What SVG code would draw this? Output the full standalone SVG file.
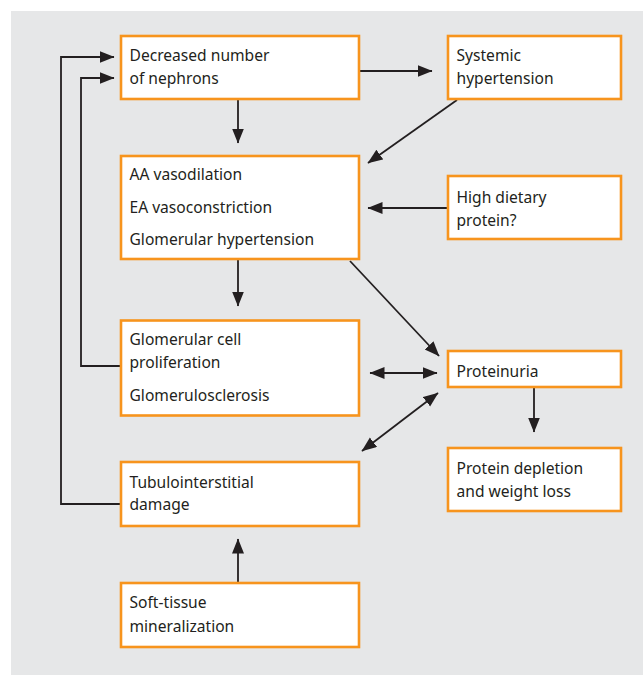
<svg xmlns="http://www.w3.org/2000/svg" width="643" height="675" viewBox="0 0 643 675">
<defs>
<style>
.bg{fill:#E6E7E8}
.box{fill:#FFFFFF;stroke:#F7941D;stroke-width:2.6}
.t{font-family:"Noto Sans","Liberation Sans",Arial,sans-serif;font-size:15.6px;fill:#231F20}
.c{fill:none;stroke:#231F20;stroke-width:1.8}
.a{marker-end:url(#ah)}
.d{marker-start:url(#ah);marker-end:url(#ah)}
</style>
<marker id="ah" markerUnits="userSpaceOnUse" markerWidth="16" markerHeight="13" refX="14.5" refY="6" orient="auto-start-reverse">
<path d="M0,0 L15,6 L0,12 Z" fill="#231F20"/>
</marker>
</defs>
<rect class="bg" x="11" y="11" width="632" height="664"/>
<g id="connectors">
<line class="c a" x1="360" y1="71" x2="432" y2="71"/>
<line class="c a" x1="238" y1="100" x2="238" y2="143"/>
<line class="c a" x1="457" y1="100" x2="368" y2="163"/>
<line class="c a" x1="447" y1="208" x2="368" y2="208"/>
<line class="c a" x1="238" y1="260" x2="238" y2="306"/>
<line class="c a" x1="350" y1="261" x2="439" y2="356"/>
<line class="c d" x1="370" y1="373" x2="437" y2="373"/>
<line class="c d" x1="362" y1="451" x2="438" y2="393"/>
<line class="c a" x1="534" y1="388" x2="534" y2="432"/>
<line class="c a" x1="238" y1="583" x2="238" y2="539"/>
<polyline class="c a" points="120,366 81,366 81,78 114,78"/>
<polyline class="c a" points="120,504 61,504 61,57 114,57"/>
</g>
<g id="n1">
<rect class="box" x="121" y="36" width="238" height="63"/>
<text class="t" x="129.5" y="61">Decreased number</text>
<text class="t" x="129.5" y="84">of nephrons</text>
</g>
<g id="sys">
<rect class="box" x="448" y="36" width="173" height="63"/>
<text class="t" x="456.5" y="61">Systemic</text>
<text class="t" x="456.5" y="83.5">hypertension</text>
</g>
<g id="n2">
<rect class="box" x="121" y="156" width="238" height="103"/>
<text class="t" x="129.5" y="180">AA vasodilation</text>
<text class="t" x="129.5" y="212.7">EA vasoconstriction</text>
<text class="t" x="129.5" y="245">Glomerular hypertension</text>
</g>
<g id="hdp">
<rect class="box" x="448" y="176" width="173" height="63"/>
<text class="t" x="456.5" y="203.3">High dietary</text>
<text class="t" x="456.5" y="226">protein?</text>
</g>
<g id="n3">
<rect class="box" x="121" y="320.5" width="238" height="95"/>
<text class="t" x="129.5" y="345">Glomerular cell</text>
<text class="t" x="129.5" y="367.5">proliferation</text>
<text class="t" x="129.5" y="400.7">Glomerulosclerosis</text>
</g>
<g id="prot">
<rect class="box" x="448" y="351" width="173" height="36"/>
<text class="t" x="456.5" y="376.7">Proteinuria</text>
</g>
<g id="pd">
<rect class="box" x="448" y="448" width="173" height="63"/>
<text class="t" x="456.5" y="474.3">Protein depletion</text>
<text class="t" x="456.5" y="496.5">and weight loss</text>
</g>
<g id="n4">
<rect class="box" x="121" y="462" width="238" height="64"/>
<text class="t" x="129.5" y="487.7">Tubulointerstitial</text>
<text class="t" x="129.5" y="510">damage</text>
</g>
<g id="n5">
<rect class="box" x="121" y="583" width="238" height="64"/>
<text class="t" x="129.5" y="608.3">Soft-tissue</text>
<text class="t" x="129.5" y="631.7">mineralization</text>
</g>
</svg>
